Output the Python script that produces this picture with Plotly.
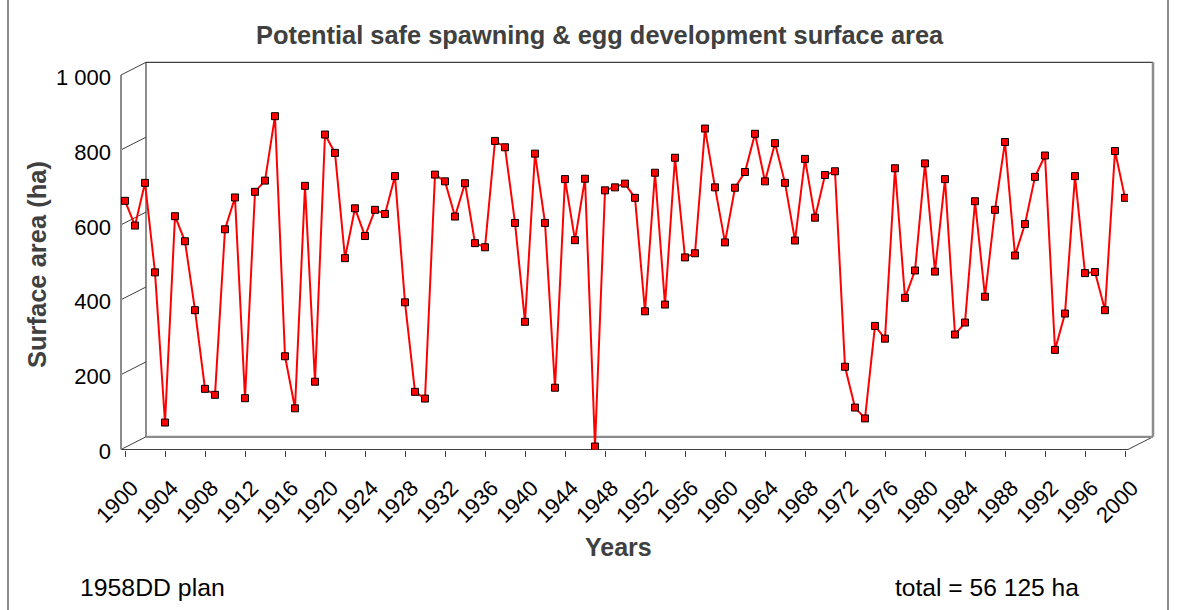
import plotly.graph_objects as go

# Annual potential safe spawning & egg development surface area (ha)
years = list(range(1900, 2001))
area_ha = [
    664, 598, 712, 473, 72, 623, 556, 372, 162, 146,      # 1900-1909
    588, 673, 137, 688, 718, 890, 249, 110, 704, 181,     # 1910-1919
    841, 792, 511, 644, 570, 640, 629, 730, 393, 154,     # 1920-1929
    136, 734, 716, 622, 711, 551, 540, 824, 807, 605,     # 1930-1939
    341, 790, 605, 165, 722, 559, 723, 8, 692, 700,       # 1940-1949
    710, 672, 369, 739, 387, 779, 513, 524, 857, 700,     # 1950-1959
    553, 699, 741, 843, 716, 818, 712, 558, 776, 619,     # 1960-1969
    733, 743, 221, 112, 83, 330, 296, 751, 405, 478,      # 1970-1979
    764, 475, 722, 307, 339, 663, 408, 640, 821, 518,     # 1980-1989
    602, 728, 785, 266, 363, 730, 471, 474, 372, 797,     # 1990-1999
    672,                                                  # 2000
]
year_ticks = list(range(1900, 2001, 4))
value_ticks = [0, 200, 400, 600, 800, 1000]
value_tick_text = ["0", "200", "400", "600", "800", "1 000"]

title_text = "Potential safe spawning & egg development surface area"
y_title = "Surface area (ha)"
x_title = "Years"
plan_text = "1958DD plan"
total_text = "total = 56 125 ha"

# ---- page geometry (pixels) ----
W, H = 1177, 610
X_MIN, X_MAX = 1899.6, 2000.3
V_MIN, V_MAX = 0, 1000
FX0, FX1 = 121, 1128        # front plane, left/right
FY0, FY1 = 449.5, 75        # front plane, value 0 / value 1000
DX, DY = 25, -12.7          # depth offset of the back wall

BX0, BX1 = FX0 + DX, FX1 + DX
BY0, BY1 = FY0 + DY, FY1 + DY

DARK = "#404040"
EDGE = "#8c8c8c"
FONT = "Liberation Sans, Arial, sans-serif"


def px(x):
    return x / W


def py(y):
    return 1 - y / H


def front_y(v):
    return FY0 + (FY1 - FY0) * (v - V_MIN) / (V_MAX - V_MIN)


def seg(x0, y0, x1, y1, color=DARK, width=1):
    return dict(type="line", xref="paper", yref="paper",
                x0=px(x0), y0=py(y0), x1=px(x1), y1=py(y1),
                line=dict(color=color, width=width), layer="below")


fig = go.Figure()

fig.add_trace(go.Scatter(
    x=years, y=area_ha, xaxis="x2", yaxis="y2",
    mode="lines+markers",
    line=dict(color="#ff0000", width=2),
    marker=dict(symbol="square", size=7, color="#ff0000",
                line=dict(color="#000000", width=1)),
    showlegend=False, hoverinfo="x+y",
))

shapes = []
# left wall: slanted links from the front axis to the back wall gridlines
for v in value_ticks:
    y = front_y(v)
    shapes.append(seg(FX0, y, FX0 + DX, y + DY))
# floor: right slanted edge and front edge
shapes.append(seg(FX1, FY0, FX1 + DX, FY0 + DY))
shapes.append(seg(FX0, FY0, FX1, FY0, DARK, 1.2))
# front left vertical
shapes.append(seg(FX0, FY0, FX0, FY1, EDGE, 2))
# back wall outline
shapes.append(seg(BX0, BY1, BX1, BY1, DARK, 1.2))
shapes.append(seg(BX0, BY0, BX0, BY1, DARK, 1.2))
shapes.append(seg(BX1, BY0, BX1, BY1, EDGE, 2.5))
shapes.append(seg(BX0, BY0, BX1, BY0, EDGE, 2.2))
# outer chart border
shapes.append(seg(8, -5, 8, 615, DARK, 1.2))
shapes.append(seg(1168, -5, 1168, 615, DARK, 1.2))

annotations = [
    dict(text=f"<b>{title_text}</b>", x=px(600), y=py(35), xref="paper", yref="paper",
         showarrow=False, font=dict(family=FONT, size=25.4, color=DARK),
         xanchor="center", yanchor="middle"),
    dict(text=f"<b>{y_title}</b>", x=px(37), y=py(265), xref="paper", yref="paper",
         showarrow=False, textangle=-90, font=dict(family=FONT, size=25.5, color=DARK),
         xanchor="center", yanchor="middle"),
    dict(text=f"<b>{x_title}</b>", x=px(618), y=py(547), xref="paper", yref="paper",
         showarrow=False, font=dict(family=FONT, size=25, color=DARK),
         xanchor="center", yanchor="middle"),
    dict(text=plan_text, x=px(78), y=py(587), xref="paper", yref="paper",
         showarrow=False, font=dict(family=FONT, size=24.8, color="#000000"),
         xanchor="left", yanchor="middle"),
    dict(text=total_text, x=px(893), y=py(587), xref="paper", yref="paper",
         showarrow=False, font=dict(family=FONT, size=24.6, color="#000000"),
         xanchor="left", yanchor="middle"),
]

fig.update_layout(
    width=W, height=H,
    margin=dict(l=0, r=0, t=0, b=0, pad=0, autoexpand=False),
    paper_bgcolor="white",
    plot_bgcolor="rgba(0,0,0,0)",
    font=dict(family=FONT, color="#000000"),
    showlegend=False,
    shapes=shapes,
    annotations=annotations,
    # back wall: gridlines and top ticks
    xaxis=dict(domain=[px(BX0), px(BX1)], range=[X_MIN, X_MAX], anchor="y",
               side="top", tickvals=year_ticks, showticklabels=False,
               ticks="outside", ticklen=6, tickcolor=DARK, tickwidth=1,
               showgrid=False, zeroline=False, showline=False,
               automargin=False, fixedrange=True),
    yaxis=dict(domain=[py(BY0), py(BY1)], range=[V_MIN, V_MAX], anchor="x",
               tickvals=value_ticks[1:-1], showticklabels=False, ticks="",
               showgrid=True, gridcolor=DARK, gridwidth=1,
               zeroline=False, showline=False, automargin=False, fixedrange=True),
    # front plane: data, tick labels
    xaxis2=dict(domain=[px(FX0), px(FX1)], range=[X_MIN, X_MAX], anchor="y2",
                tickvals=year_ticks, ticktext=[str(t) for t in year_ticks],
                tickangle=-45, ticks="outside", ticklen=6, tickcolor=DARK,
                tickwidth=1, ticklabelstandoff=10, ticklabelshift=7,
                tickfont=dict(family=FONT, size=22, color="#000000"),
                showgrid=False, zeroline=False, showline=False,
                automargin=False, fixedrange=True),
    yaxis2=dict(domain=[py(FY0), py(FY1)], range=[V_MIN, V_MAX], anchor="x2",
                tickvals=value_ticks, ticktext=value_tick_text, ticks="",
                ticklabelstandoff=9, ticklabelshift=2,
                tickfont=dict(family=FONT, size=22, color="#000000"),
                showgrid=False, zeroline=False, showline=False,
                automargin=False, fixedrange=True),
)

fig.write_html("out.html")
